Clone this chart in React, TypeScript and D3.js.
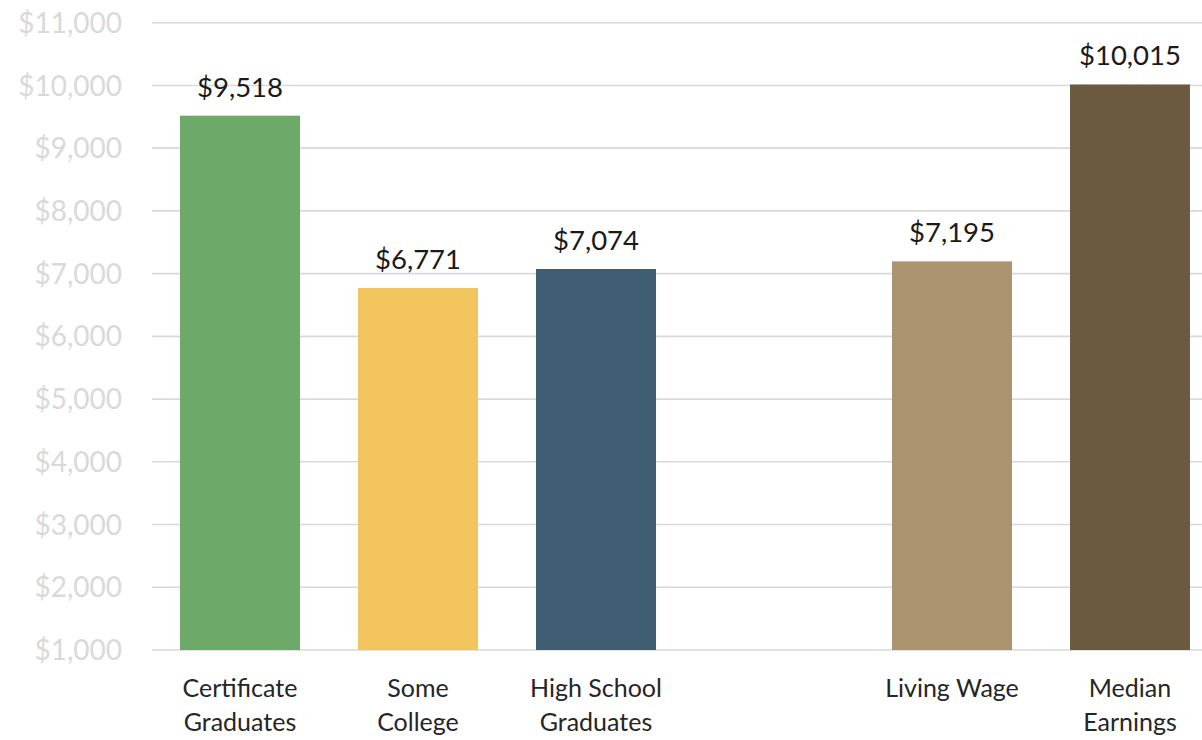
import React from "react";
import * as d3 from "d3";

const categories = ["Certificate Graduates", "Some College", "High School Graduates", "", "Living Wage", "Median Earnings"];
const labelLines = [["Certificate", "Graduates"], ["Some", "College"], ["High School", "Graduates"], [], ["Living Wage"], ["Median", "Earnings"]];
const values: (number | null)[] = [9518, 6771, 7074, null, 7195, 10015];
const colors = ["#6DAA6A", "#F3C55E", "#3F5E73", "none", "#AB9370", "#6B5A3D"];
const yTicks = [1000, 2000, 3000, 4000, 5000, 6000, 7000, 8000, 9000, 10000, 11000];

const W = 1202;
const H = 740;
const FONT = "Lato, 'Open Sans', sans-serif";

export default function App() {
  const x = d3
    .scaleBand<string>()
    .domain(categories.map((c, i) => c + "#" + i))
    .range([151, 1219])
    .paddingInner(0.326)
    .paddingOuter(0.163);
  const y = d3.scaleLinear().domain([1000, 11000]).range([650, 22.7]);
  const fmt = d3.format("$,.0f");
  const keys = x.domain();

  return (
    <svg width={W} height={H} style={{ position: "absolute", left: 0, top: 0, background: "#fff" }} fontFamily={FONT}>
      <g>
        {yTicks.map((t) => (
          <g key={t}>
            <line x1={152} x2={W} y1={y(t)} y2={y(t)} stroke="#d9d9d9" strokeWidth={1.6} />
            <text x={122} y={y(t)} dy="0.36em" textAnchor="end" fontSize={28} fill="#d9d9d9">
              {fmt(t)}
            </text>
          </g>
        ))}
      </g>
      <g>
        {keys.map((k, i) => {
          const v = values[i];
          if (v == null) return null;
          const x0 = x(k)!;
          return (
            <g key={k}>
              <rect x={x0} y={y(v)} width={x.bandwidth()} height={y(1000) - y(v)} fill={colors[i]} />
              <text x={x0 + x.bandwidth() / 2} y={y(v) - 19} textAnchor="middle" fontSize={27.5} fill="#1a1a1a">
                {fmt(v)}
              </text>
            </g>
          );
        })}
      </g>
      <g>
        {keys.map((k, i) => {
          const cx = x(k)! + x.bandwidth() / 2;
          return (
            <text key={k} textAnchor="middle" fontSize={25} fill="#262626">
              {labelLines[i].map((ln, j) => (
                <tspan key={j} x={cx} y={697 + j * 33.5}>
                  {ln}
                </tspan>
              ))}
            </text>
          );
        })}
      </g>
    </svg>
  );
}
